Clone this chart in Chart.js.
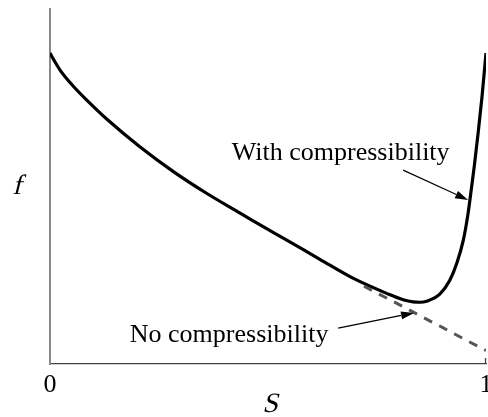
<!DOCTYPE html>
<html>
<head>
<meta charset="utf-8">
<script src="https://cdn.jsdelivr.net/npm/chart.js@4.4.1/dist/chart.umd.min.js"></script>
<style>
html,body{margin:0;padding:0;background:#fff;}
#wrap{width:488px;height:417px;position:relative;}
</style>
</head>
<body>
<div id="wrap"><canvas id="c" width="488" height="417"></canvas></div>
<script>
// Data (S on x, f on y)
const withS = [0.000,0.009,0.023,0.053,0.092,0.130,0.206,0.283,0.359,0.436,0.466,0.543,0.619,0.696,0.772,0.810,0.833,0.849,0.864,0.894,0.917,0.933,0.948,0.959,0.967,0.973,0.982,0.991,1.000];
const withF = [0.876,0.856,0.828,0.783,0.734,0.690,0.612,0.542,0.481,0.425,0.403,0.349,0.295,0.241,0.199,0.181,0.175,0.174,0.177,0.197,0.236,0.284,0.349,0.425,0.499,0.556,0.651,0.755,0.876];
const noS = [0.720,0.750,0.800,0.850,0.900,0.950,1.000];
const noF = [0.219,0.200,0.168,0.135,0.103,0.070,0.038];
const xTickValues = [0, 1];
const xTickLabels = ['0', '1'];
const xTitle = 'S';
const yTitle = 'f';
const labelWith = 'With compressibility';
const labelNo = 'No compressibility';
// annotation anchors in data units: text [S,f], arrow tail [S,f], arrow tip [S,f]
const annWithText = [0.417, 0.575];
const annWithArrow = [[0.810, 0.546], [0.959, 0.462]];
const annNoText = [0.183, 0.062];
const annNoArrow = [[0.661, 0.101], [0.835, 0.144]];

const pts = (xs, ys) => xs.map((x, i) => ({x: x, y: ys[i]}));

const SERIF = '"Liberation Serif", "DejaVu Serif", serif';

function arrow(ctx, x1, y1, x2, y2) {
  const ang = Math.atan2(y2 - y1, x2 - x1);
  const L = 13, W = 4;
  const bx = x2 - L * Math.cos(ang), by = y2 - L * Math.sin(ang);
  ctx.beginPath();
  ctx.moveTo(x1, y1);
  ctx.lineTo(bx, by);
  ctx.strokeStyle = '#000';
  ctx.lineWidth = 1.2;
  ctx.stroke();
  ctx.beginPath();
  ctx.moveTo(x2, y2);
  ctx.lineTo(bx + W * Math.sin(ang), by - W * Math.cos(ang));
  ctx.lineTo(bx - W * Math.sin(ang), by + W * Math.cos(ang));
  ctx.closePath();
  ctx.fillStyle = '#000';
  ctx.fill();
}

function italicText(ctx, txt, x, y) {
  ctx.save();
  ctx.translate(x, y);
  ctx.transform(1, 0, -0.25, 1, 0, 0);
  ctx.fillText(txt, 0, 0);
  ctx.restore();
}

const decor = {
  id: 'decor',
  afterDraw(chart) {
    const ctx = chart.ctx;
    const xs = chart.scales.x, ys = chart.scales.y;
    const area = chart.chartArea;
    const px = v => xs.getPixelForValue(v);
    const py = v => ys.getPixelForValue(v);
    ctx.save();
    // small inner tick at the right end of x axis
    ctx.strokeStyle = '#444';
    ctx.lineWidth = 1.3;
    ctx.beginPath();
    ctx.moveTo(px(1) - 0.5, area.bottom);
    ctx.lineTo(px(1) - 0.5, area.bottom - 6);
    ctx.stroke();
    // tick labels
    ctx.fillStyle = '#000';
    ctx.font = '26px ' + SERIF;
    ctx.textAlign = 'center';
    ctx.textBaseline = 'alphabetic';
    xTickValues.forEach((v, i) => {
      ctx.fillText(xTickLabels[i], px(v), area.bottom + 28);
    });
    // axis titles (serif, slanted)
    ctx.font = '28px ' + SERIF;
    italicText(ctx, xTitle, (area.left + area.right) / 2 + 2, area.bottom + 48);
    italicText(ctx, yTitle, 17, (area.top + area.bottom) / 2 + 7);
    // annotations
    ctx.font = '26px ' + SERIF;
    ctx.textAlign = 'left';
    ctx.fillText(labelWith, px(annWithText[0]), py(annWithText[1]));
    ctx.fillText(labelNo, px(annNoText[0]), py(annNoText[1]));
    arrow(ctx, px(annWithArrow[0][0]), py(annWithArrow[0][1]), px(annWithArrow[1][0]), py(annWithArrow[1][1]));
    arrow(ctx, px(annNoArrow[0][0]), py(annNoArrow[0][1]), px(annNoArrow[1][0]), py(annNoArrow[1][1]));
    ctx.restore();
  }
};

new Chart(document.getElementById('c'), {
  type: 'line',
  data: {
    datasets: [
      {
        label: labelNo,
        data: pts(noS, noF),
        borderColor: '#555',
        borderWidth: 3,
        borderDash: [9, 8],
        pointRadius: 0,
        tension: 0,
        fill: false
      },
      {
        label: labelWith,
        data: pts(withS, withF),
        borderColor: '#000',
        borderWidth: 3.2,
        pointRadius: 0,
        cubicInterpolationMode: 'monotone',
        fill: false
      }
    ]
  },
  options: {
    responsive: false,
    animation: false,
    layout: {padding: {left: 50, right: 2, top: 9, bottom: 53}},
    plugins: {legend: {display: false}, tooltip: {enabled: false}},
    scales: {
      x: {
        type: 'linear', min: 0, max: 1,
        grid: {display: false, drawTicks: false},
        ticks: {display: false},
        border: {display: true, color: '#444', width: 1.3}
      },
      y: {
        type: 'linear', min: 0, max: 1,
        grid: {display: false, drawTicks: false},
        ticks: {display: false},
        border: {display: true, color: '#888', width: 2}
      }
    }
  },
  plugins: [decor]
});
</script>
</body>
</html>
